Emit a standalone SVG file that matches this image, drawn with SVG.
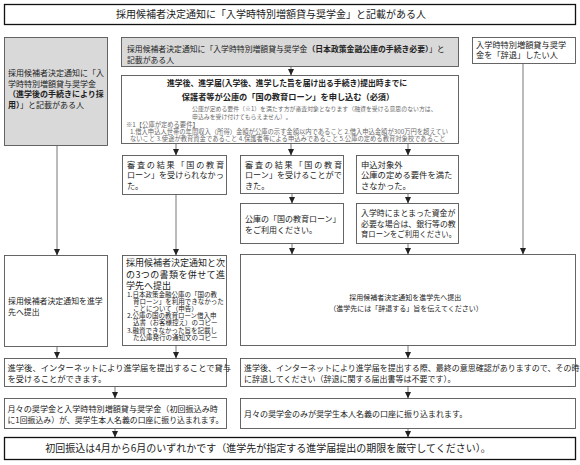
<svg xmlns="http://www.w3.org/2000/svg" width="580" height="465" viewBox="0 0 580 465">
<style>
.box{fill:#fff;stroke:#555;stroke-width:0.9}
.gray{fill:#d9d9d9;stroke:#555;stroke-width:0.9}
.banner{fill:#fff;stroke:#111;stroke-width:1.3}
text{font-family:"Noto Sans CJK JP","Noto Sans",sans-serif;fill:#222}
.b{font-weight:bold}
.s{fill:#6a6a6a}
.conn line{stroke:#777;stroke-width:1}
</style>
<defs>
<marker id="ah" viewBox="0 0 10 10" refX="10" refY="5" markerWidth="7" markerHeight="6.5" markerUnits="userSpaceOnUse" orient="auto" preserveAspectRatio="none"><path d="M0,0L10,5L0,10z" fill="#222"/></marker>
</defs>
<rect width="580" height="465" fill="#fff"/>

<g class="conn">
<line x1="291" y1="66.5" x2="291" y2="75.5" marker-end="url(#ah)"/>
<line x1="176" y1="143.5" x2="176" y2="155.5" marker-end="url(#ah)"/>
<line x1="291" y1="143.5" x2="291" y2="155.5" marker-end="url(#ah)"/>
<line x1="408" y1="143.5" x2="408" y2="155.5" marker-end="url(#ah)"/>
<line x1="292" y1="193.5" x2="292" y2="203.5" marker-end="url(#ah)"/>
<line x1="408" y1="193.5" x2="408" y2="203.5" marker-end="url(#ah)"/>
<line x1="57" y1="145.5" x2="57" y2="255.5" marker-end="url(#ah)"/>
<line x1="176" y1="194.5" x2="176" y2="255.5" marker-end="url(#ah)"/>
<line x1="292" y1="243.5" x2="292" y2="254.5" marker-end="url(#ah)"/>
<line x1="408" y1="243.5" x2="408" y2="254.5" marker-end="url(#ah)"/>
<line x1="523" y1="63.5" x2="523" y2="254.5" marker-end="url(#ah)"/>
<line x1="57" y1="346.5" x2="57" y2="358.5" marker-end="url(#ah)"/>
<line x1="176" y1="345.5" x2="176" y2="358.5" marker-end="url(#ah)"/>
<line x1="408" y1="345.5" x2="408" y2="358.5" marker-end="url(#ah)"/>
<line x1="115" y1="386.5" x2="115" y2="398.5" marker-end="url(#ah)"/>
<line x1="408" y1="386.5" x2="408" y2="398.5" marker-end="url(#ah)"/>
<line x1="115" y1="428.5" x2="115" y2="437.5" marker-end="url(#ah)"/>
<line x1="408" y1="428.5" x2="408" y2="437.5" marker-end="url(#ah)"/>
</g>

<g id="n-top">
<rect class="banner" x="4.5" y="4.5" width="571" height="20"/>
<text x="271" y="18.3" font-size="10" text-anchor="middle">採用候補者決定通知に「入学時特別増額貸与奨学金」と記載がある人</text>
</g>

<g id="n-left">
<rect class="gray" x="4.5" y="37.5" width="103" height="108"/>
<text font-size="8">
<tspan x="8" y="76">採用候補者決定通知に「入</tspan>
<tspan x="8" y="86.5">学時特別増額貸与奨学金</tspan>
<tspan x="8" y="97" class="b">（進学後の手続きにより採</tspan>
<tspan x="8" y="107.5"><tspan class="b">用）</tspan>」と記載がある人</tspan>
</text>
</g>

<g id="n-mid">
<rect class="gray" x="121.5" y="37.5" width="337" height="29"/>
<text font-size="7.85">
<tspan x="127" y="52.3">採用候補者決定通知に「入学時特別増額貸与奨学金<tspan class="b">（日本政策金融公庫の手続き必要）</tspan>」と</tspan>
<tspan x="127" y="62.8">記載がある人</tspan>
</text>
</g>

<g id="n-right">
<rect class="box" x="472.5" y="37.5" width="103" height="26"/>
<text font-size="8.2">
<tspan x="476" y="47.5">入学時特別増額貸与奨学</tspan>
<tspan x="476" y="58">金を「辞退」したい人</tspan>
</text>
</g>

<g id="n-apply">
<rect class="box" x="121.5" y="75.5" width="337" height="68"/>
<text class="b" font-size="8.2" text-anchor="middle">
<tspan x="288" y="86" textLength="240" lengthAdjust="spacingAndGlyphs">進学後、進学届(入学後、進学した旨を届け出る手続き)提出時までに</tspan>
<tspan x="288" y="100">保護者等が公庫の「国の教育ローン」を申し込む（必須）</tspan>
</text>
<text class="s" font-size="11.8" transform="scale(0.5)">
<tspan x="384" y="221.6">公庫が定める要件（※1）を満たす方が審査対象となります（融資を受ける意思のない方は、</tspan>
<tspan x="384" y="238">申込みを受け付けてもらえません）。</tspan>
</text>
<text class="s" font-size="12.6" transform="scale(0.5)">
<tspan x="252" y="254.6">※1【公庫が定める要件】</tspan>
<tspan x="260" y="268">1.借入申込人世帯の年間収入（所得）金額が公庫の示す金額以内であること 2.借入申込金額が300万円を超えてい</tspan>
<tspan x="260" y="281.2">ないこと 3.使途が教育資金であること 4.保護者等による申込みであること 5.公庫の定める教育対象校であること</tspan>
</text>
</g>

<g id="n-a">
<rect class="box" x="122.5" y="155.5" width="104" height="39"/>
<text font-size="8.1">
<tspan x="127" y="167.5" textLength="97" lengthAdjust="spacing">審査の結果「国の教育</tspan>
<tspan x="127" y="178">ローン」を受けられなかっ</tspan>
<tspan x="127" y="188.5">た。</tspan>
</text>
</g>

<g id="n-b">
<rect class="box" x="240.5" y="155.5" width="103" height="38"/>
<text font-size="8.1">
<tspan x="245" y="167.5" textLength="97" lengthAdjust="spacing">審査の結果「国の教育</tspan>
<tspan x="245" y="178">ローン」を受けることがで</tspan>
<tspan x="245" y="188.5">きた。</tspan>
</text>
</g>

<g id="n-c">
<rect class="box" x="356.5" y="155.5" width="102" height="38"/>
<text font-size="8.3">
<tspan x="361" y="167.5">申込対象外</tspan>
<tspan x="361" y="178">公庫の定める要件を満た</tspan>
<tspan x="361" y="188.5">さなかった。</tspan>
</text>
</g>

<g id="n-b2">
<rect class="box" x="240.5" y="203.5" width="103" height="40"/>
<text font-size="8">
<tspan x="245" y="222">公庫の「国の教育ローン」</tspan>
<tspan x="245" y="233">をご利用ください。</tspan>
</text>
</g>

<g id="n-c2">
<rect class="box" x="356.5" y="203.5" width="102" height="40"/>
<text font-size="7.9">
<tspan x="361" y="216">入学時にまとまった資金が</tspan>
<tspan x="361" y="226.5">必要な場合は、銀行等の教</tspan>
<tspan x="361" y="237" textLength="95" lengthAdjust="spacingAndGlyphs">育ローンをご利用ください。</tspan>
</text>
</g>

<g id="n-e">
<rect class="box" x="4.5" y="255.5" width="103" height="91"/>
<text font-size="7.9">
<tspan x="8" y="304">採用候補者決定通知を進学</tspan>
<tspan x="8" y="315">先へ提出</tspan>
</text>
</g>

<g id="n-d">
<rect class="box" x="122.5" y="255.5" width="104" height="90"/>
<text font-size="9">
<tspan x="126" y="266.2">採用候補者決定通知と次</tspan>
<tspan x="126" y="278.2" textLength="99" lengthAdjust="spacing">の3つの書類を併せて進</tspan>
<tspan x="126" y="289.2">学先へ提出</tspan>
</text>
<text font-size="13" transform="scale(0.5)">
<tspan x="254" y="593.6">1.日本政策金融公庫の「国の教</tspan>
<tspan x="266" y="607.6">育ローン」を利用できなかった</tspan>
<tspan x="266" y="621.6">ことについて（申告）</tspan>
<tspan x="254" y="636.6">2.公庫の国の教育ローン借入申</tspan>
<tspan x="266" y="650.6">込書（お客様控え）のコピー</tspan>
<tspan x="254" y="665.6">3.融資できなかった旨を記載し</tspan>
<tspan x="266" y="680.6">た公庫発行の通知文のコピー</tspan>
</text>
</g>

<g id="n-f">
<rect class="box" x="240.5" y="254.5" width="335" height="91"/>
<text font-size="7" text-anchor="middle">
<tspan x="406" y="299.5">採用候補者決定通知を進学先へ提出</tspan>
<tspan x="406" y="310.5">（進学先には「辞退する」旨を伝えてください）</tspan>
</text>
</g>

<g id="n-g">
<rect class="box" x="4.5" y="358.5" width="222" height="28"/>
<text font-size="8.3">
<tspan x="7.5" y="370.5">進学後、インターネットにより進学届を提出することで貸与</tspan>
<tspan x="7.5" y="381.5">を受けることができます。</tspan>
</text>
</g>

<g id="n-h">
<rect class="box" x="240.5" y="358.5" width="335" height="28"/>
<text font-size="8">
<tspan x="244" y="370.5">進学後、インターネットにより進学届を提出する際、最終の意思確認がありますので、その時</tspan>
<tspan x="244" y="381.5">に辞退してください（辞退に関する届出書等は不要です）。</tspan>
</text>
</g>

<g id="n-i">
<rect class="box" x="4.5" y="398.5" width="222" height="30"/>
<text font-size="8.1">
<tspan x="7.5" y="411.5">月々の奨学金と入学時特別増額貸与奨学金（初回振込み時</tspan>
<tspan x="7.5" y="422.5" textLength="216" lengthAdjust="spacingAndGlyphs">に1回振込み）が、奨学生本人名義の口座に振り込まれます。</tspan>
</text>
</g>

<g id="n-j">
<rect class="box" x="240.5" y="398.5" width="335" height="30"/>
<text font-size="8" x="244" y="417">月々の奨学金のみが奨学生本人名義の口座に振り込まれます。</text>
</g>

<g id="n-bottom">
<rect class="banner" x="4.5" y="437.5" width="571" height="22"/>
<text x="268" y="452" font-size="10" text-anchor="middle">初回振込は4月から6月のいずれかです（進学先が指定する進学届提出の期限を厳守してください）。</text>
</g>
</svg>
